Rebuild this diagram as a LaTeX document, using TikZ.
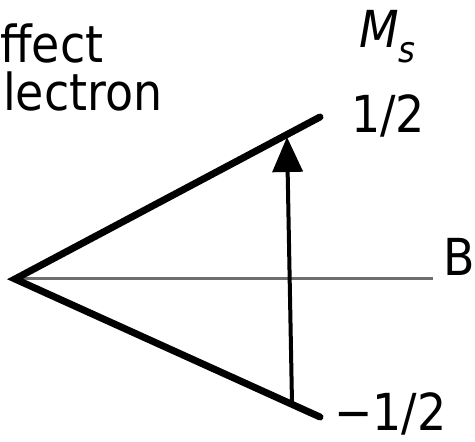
\documentclass[tikz,border=0pt]{standalone}
\usepackage{fontspec}
\setmainfont{DejaVu Sans Condensed}
\usetikzlibrary{arrows.meta,positioning}
\definecolor{axisgray}{HTML}{6E6E6E}
\tikzset{level/.style={line width=7pt,line cap=round},lbl/.style={inner sep=0pt,font=\fontsize{51}{58}\selectfont}}
\begin{document}
\begin{tikzpicture}[x=1pt,y=-1pt]
\useasboundingbox (0,0) rectangle (475,442);
\coordinate (apex) at (15,279);\coordinate (up) at (320,117);\coordinate (lo) at (320,417);
\coordinate (bend) at (433,278);\coordinate (fromlo) at (292,403);\coordinate (toup) at (287,137);
\draw[axisgray,line width=3pt] (apex|-bend)--(bend);
\draw[level,line join=miter] (up)--(apex)--(lo);
\draw[line width=4pt,-{Triangle[length=35pt,width=30pt]}] (fromlo)--(toup);
\node[lbl,anchor=base west] (eff) at (0,62) {ffect};
\node[lbl,anchor=base west] (elec) at (3,110) {lectron};
\node[lbl,anchor=base west] (ms) at (359,47) {\itshape M\raisebox{-15pt}{\fontsize{36}{40}\selectfont s}};
\node[lbl,anchor=base west] (plus) at (351,132) {1/2};
\node[lbl,anchor=base west] (bl) at (443,275) {B};
\node[lbl,anchor=base west] (minus) at (334,430) {−1/2};
\end{tikzpicture}
\end{document}
